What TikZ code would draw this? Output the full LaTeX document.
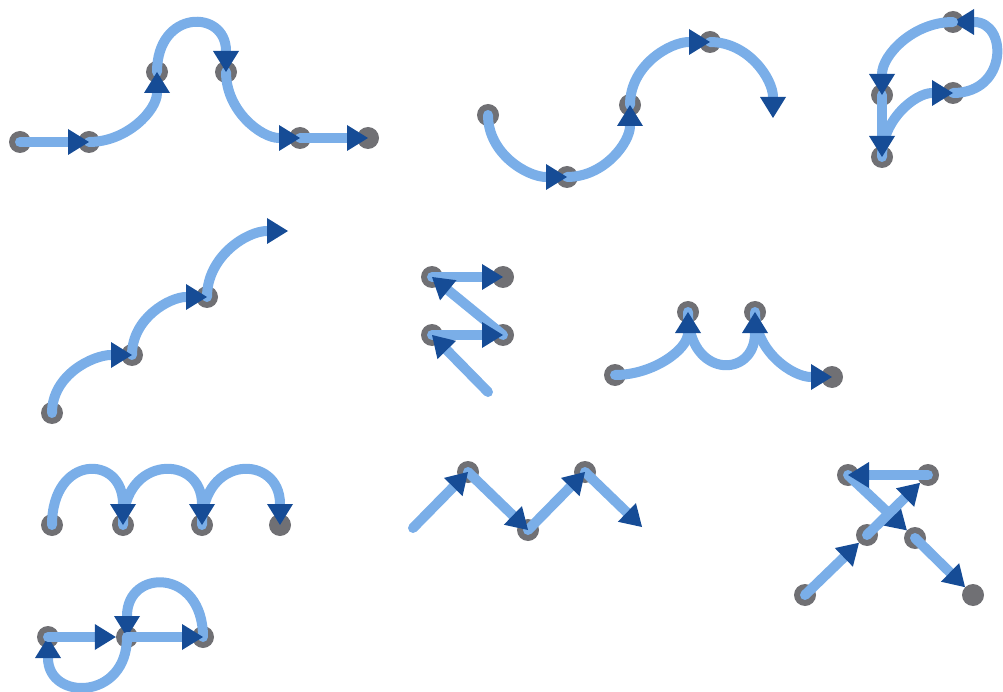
\documentclass[tikz,border=0pt]{standalone}
\usepackage{tikz}
\usetikzlibrary{arrows.meta, positioning}

\definecolor{lineblue}{RGB}{122,174,232}
\definecolor{tipblue}{RGB}{22,76,150}
\definecolor{dotgrey}{RGB}{112,112,116}

\begin{document}
\begin{tikzpicture}[x=1pt,y=1pt,node distance=71pt,on grid,
    dot/.style={circle,fill=dotgrey,inner sep=0pt,minimum size=22pt},
    conn/.style={every edge/.style={draw=lineblue,line width=10pt,line cap=round,
      -{Triangle[length=21pt,width=26pt,line width=0pt,color=tipblue]}}}]
  \useasboundingbox (0,0) rectangle (1003,-692);

  \node[dot] (a1) at (20,-142)      {};
  \node[dot] (a2) [right=69pt of a1] {};
  \node[dot] (a3) at (157,-72)      {};
  \node[dot] (a4) [right=69pt of a3] {};
  \node[dot] (a5) at (300,-138)     {};
  \node[dot] (a6) [right=68pt of a5] {};

  \node[dot] (b1) at (488,-115) {};
  \node[dot] (b2) at (567,-177) {};
  \node[dot] (b3) at (630,-105) {};
  \node[dot] (b4) at (710,-42)  {};
  \coordinate (b5) at (773,-118);

  \node[dot] (c1) at (882,-95)       {};
  \node[dot] (c2) [below=62pt of c1] {};
  \node[dot] (c3) at (953,-93)       {};
  \node[dot] (c4) [above=71pt of c3] {};

  \node[dot] (d1) at (52,-413)  {};
  \node[dot] (d2) at (132,-355) {};
  \node[dot] (d3) at (207,-297) {};
  \coordinate (d4) at (288,-231);

  \node[dot] (e1) at (432,-277)      {};
  \node[dot] (e2) [right=of e1]      {};
  \node[dot] (e3) [below=58pt of e1] {};
  \node[dot] (e4) [right=of e3]      {};
  \coordinate (e0) at (488,-392);

  \node[dot] (f1) at (615,-375)      {};
  \node[dot] (f2) at (688,-312)      {};
  \node[dot] (f3) [right=67pt of f2] {};
  \node[dot] (f4) at (832,-377)      {};

  \node[dot] (g1) at (52,-525)       {};
  \node[dot] (g2) [right=of g1]      {};
  \node[dot] (g3) [right=79pt of g2] {};
  \node[dot] (g4) [right=78pt of g3] {};

  \coordinate (h0) at (413,-528);
  \node[dot] (h1) at (468,-472) {};
  \node[dot] (h2) at (528,-530) {};
  \node[dot] (h3) at (585,-472) {};
  \coordinate (h4) at (642,-527);

  \node[dot] (i1) at (48,-637)       {};
  \node[dot] (i2) [right=79pt of i1] {};
  \node[dot] (i3) [right=76pt of i2] {};

  \node[dot] (j1) at (805,-595)     {};
  \node[dot] (j2) at (867,-535)     {};
  \node[dot] (j3) at (928,-475)     {};
  \node[dot] (j4) [left=80pt of j3] {};
  \node[dot] (j5) at (915,-538)     {};
  \node[dot] (j6) at (973,-595)     {};

  \path[conn] (a5.center) edge (a6.center)
              (a4.center) edge[out=-90,in=180] (a5.center)
              (a3.center) edge[out=90,in=90,distance=63pt] (a4.center)
              (a2.center) edge[out=0,in=-90] (a3.center)
              (a1.center) edge (a2.center);

  \path[conn] (b4.center) edge[out=0,in=90] (b5)
              (b3.center) edge[out=90,in=180] (b4.center)
              (b2.center) edge[out=0,in=-90] (b3.center)
              (b1.center) edge[out=-90,in=180] (b2.center);

  \path[conn] (c3.center) edge[out=0,in=0,distance=55pt] (c4.center)
              (c2.center) edge[out=90,in=180] (c3.center)
              (c1.center) edge (c2.center)
              (c4.center) edge[out=180,in=90] (c1.center);

  \path[conn] (d3.center) edge[out=90,in=180] (d4)
              (d2.center) edge[out=90,in=180] (d3.center)
              (d1.center) edge[out=90,in=180] (d2.center);

  \path[conn] (e1.center) edge (e2.center)
              (e4.center) edge (e1.center)
              (e3.center) edge (e4.center)
              (e0) edge (e3.center);

  \path[conn] (f3.center) edge[out=-90,in=180] (f4.center)
              (f2.center) edge[out=-90,in=-90,distance=67pt] (f3.center)
              (f1.center) edge[out=0,in=-90] (f2.center);

  \path[conn] (g3.center) edge[out=90,in=90,distance=71pt] (g4.center)
              (g2.center) edge[out=90,in=90,distance=71pt] (g3.center)
              (g1.center) edge[out=90,in=90,distance=71pt] (g2.center);

  \path[conn] (h3.center) edge (h4)
              (h2.center) edge (h3.center)
              (h1.center) edge (h2.center)
              (h0) edge (h1.center);

  \path[conn] (i2.center) edge[out=-90,in=-90,distance=64pt] (i1.center)
              (i3.center) edge[out=90,in=90,distance=69pt] (i2.center)
              (i2.center) edge (i3.center)
              (i1.center) edge (i2);

  \path[conn] (j5.center) edge (j6)
              (j4.center) edge (j5)
              (j3.center) edge (j4.center)
              (j2.center) edge (j3)
              (j1.center) edge (j2);
\end{tikzpicture}
\end{document}
